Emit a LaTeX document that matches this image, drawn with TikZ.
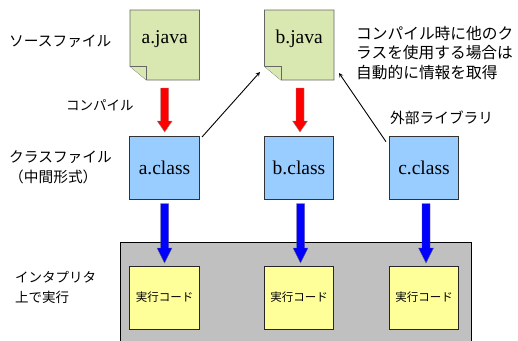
\documentclass[tikz,border=0pt]{standalone}
\usepackage{fontspec}
\setmainfont{Liberation Serif}
\newfontfamily\jp{Noto Sans CJK JP}
\definecolor{notefill}{HTML}{D9E8B0}
\definecolor{clsfill}{HTML}{99CCFF}
\definecolor{codefill}{HTML}{FFFF99}
\definecolor{grayfill}{HTML}{C0C0C0}
\begin{document}
\begin{tikzpicture}[x=1pt,y=-1pt,
  note/.style={draw=black!60,fill=notefill,line width=.7pt},
  lbl/.style={font=\jp\fontsize{14.7}{19.5}\selectfont,align=left,inner sep=0pt,anchor=west},
  cls/.style={draw=black!80,fill=clsfill,line width=.7pt,minimum width=69.5pt,minimum height=63pt,inner sep=0pt,font=\fontsize{19.5}{22}\selectfont},
  code/.style={draw=black!85,fill=codefill,line width=.7pt,minimum width=69.5pt,minimum height=63pt,inner sep=0pt,font=\jp\fontsize{11.5}{14}\selectfont},
  red arrow/.style={draw=black!45,fill=red,line width=.4pt},
  blue arrow/.style={draw=black!60,fill=blue,line width=.4pt},
  link/.style={-stealth,line width=.9pt}]
\useasboundingbox (0,0) rectangle (518,340);
\fill[white] (0,0) rectangle (518,340);
\draw[black,fill=grayfill,line width=.7pt] (120,242.5) rectangle (471.5,345);
\foreach \nm/\x/\t in {aj/130/a.java,bj/264.5/b.java}{
  \draw[note] (\x,10) -- (\x+69.5,10) -- (\x+69.5,80) -- (\x+16.5,80) -- (\x,66.3) -- cycle;
  \draw[note] (\x,66.3) -- (\x+16.5,66.3) -- (\x+16.5,80);
  \node[font=\fontsize{19.5}{22}\selectfont,inner sep=0pt] (\nm) at (\x+34.7,39) {\t};
}
\coordinate (bjcorner) at (260,72);
\coordinate (bjright) at (339,73);
\coordinate (acout) at (202,137);
\coordinate (ccout) at (386,141.7);
\node[cls] (ac) at (164.5,167.5) {a.class};
\node[cls] (bc) at (299,167.5) {b.class};
\node[cls] (cc) at (424,167.5) {c.class};
\node[code] (ax) at (164.5,297.5) {実行コード};
\node[code] (bx) at (299,297.5) {実行コード};
\node[code] (cx) at (424,297.5) {実行コード};
\foreach \c in {164.7,300}{
  \draw[red arrow] (\c-4,88) -- (\c+4,88) -- (\c+4,121) -- (\c+7.5,121) -- (\c,132) -- (\c-7.5,121) -- (\c-4,121) -- cycle;
}
\foreach \c in {164.5,300.5,426}{
  \draw[blue arrow] (\c-4,203.5) -- (\c+4,203.5) -- (\c+4,248) -- (\c+7.5,248) -- (\c,263) -- (\c-7.5,248) -- (\c-4,248) -- cycle;
}
\draw[link] (acout) -- (bjcorner);
\draw[link] (ccout) -- (bjright);
\node[lbl] (l1) at (9,41.5) {ソースファイル};
\node[lbl,font=\jp\fontsize{13.5}{18}\selectfont] (l2) at (66,105.5) {コンパイル};
\node[lbl] (l3) at (9,167.5) {クラスファイル\\（中間形式）};
\node[lbl,font=\jp\fontsize{13.5}{20}\selectfont] (l4) at (15,287.5) {インタプリタ\\上で実行};
\node[lbl,font=\jp\fontsize{15.7}{19.5}\selectfont] (l5) at (356,53) {コンパイル時に他のク\\ラスを使用する場合は\\自動的に情報を取得};
\node[lbl] (l6) at (390,118) {外部ライブラリ};
\end{tikzpicture}
\end{document}
